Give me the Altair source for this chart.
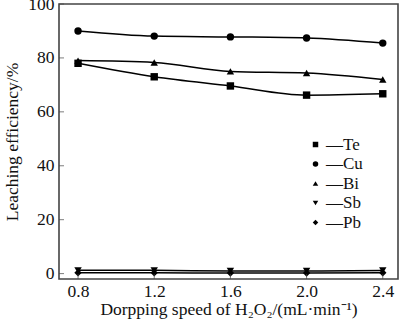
import altair as alt
import pandas as pd

speeds = [0.8, 1.2, 1.6, 2.0, 2.4]
te = [78.0, 73.0, 69.6, 66.2, 66.7]
cu = [90.0, 88.1, 87.8, 87.4, 85.5]
bi = [79.0, 78.3, 75.0, 74.4, 72.0]
sb = [1.2, 1.2, 1.0, 1.0, 1.2]
pb = [0.3, 0.3, 0.2, 0.2, 0.3]
series_names = ["Te", "Cu", "Bi", "Sb", "Pb"]
x_ticks = [0.8, 1.2, 1.6, 2.0, 2.4]
y_ticks = [0, 20, 40, 60, 80, 100]

rows = []
for name, vals in zip(series_names, [te, cu, bi, sb, pb]):
    for s, v in zip(speeds, vals):
        rows.append({"speed": s, "eff": v, "metal": name})
df = pd.DataFrame(rows)

FONT = "Liberation Serif, Times New Roman, serif"
FS = 17.5
xs = alt.Scale(domain=[0.7, 2.48], nice=False, zero=False)
ys = alt.Scale(domain=[-2, 100], nice=False, zero=False)

x_enc = alt.X("speed:Q", scale=xs,
              axis=alt.Axis(values=x_ticks, format=".1f", tickSize=0, domain=False, grid=False,
                            labelFont=FONT, labelFontSize=FS, labelColor="#111", labelPadding=3,
                            title="Dorpping speed of H₂O₂/(mL·min⁻¹)", titleFont=FONT,
                            titleFontSize=FS, titleFontWeight="normal", titleColor="#111",
                            titlePadding=1))
y_enc = alt.Y("eff:Q", scale=ys,
              axis=alt.Axis(values=y_ticks, tickSize=0, domain=False, grid=False,
                            labelFont=FONT, labelFontSize=FS, labelColor="#111", labelPadding=5,
                            title="Leaching efficiency/%", titleFont=FONT, titleFontSize=FS,
                            titleFontWeight="normal", titleColor="#111", titlePadding=6))

lines = alt.Chart(df).mark_line(interpolate="monotone", color="black", strokeWidth=1.5).encode(
    x=x_enc, y=y_enc, detail="metal:N")

points = alt.Chart(df).mark_point(filled=True, opacity=1, size=55, color="black").encode(
    x=alt.X("speed:Q", scale=xs),
    y=alt.Y("eff:Q", scale=ys),
    shape=alt.Shape("metal:N", sort=series_names,
                    scale=alt.Scale(domain=series_names,
                                    range=["square", "circle", "triangle-up", "triangle-down", "diamond"]),
                    legend=alt.Legend(title=None, orient="none", legendX=248, legendY=132,
                                      labelFont=FONT, labelFontSize=17, labelColor="#111",
                                      labelExpr="'—' + datum.label", symbolSize=30,
                                      symbolFillColor="black", symbolStrokeColor="black",
                                      rowPadding=1.5, labelOffset=2)))

ytick_df = pd.DataFrame({"v": y_ticks})
xtick_df = pd.DataFrame({"v": x_ticks})
yt = alt.Chart(ytick_df).mark_tick(orient="horizontal", color="#444", size=5, thickness=1).encode(
    y=alt.Y("v:Q", scale=ys), x=alt.value(2.5))
xt = alt.Chart(xtick_df).mark_tick(orient="vertical", color="#444", size=5, thickness=1).encode(
    x=alt.X("v:Q", scale=xs), y=alt.value(272.5))

chart = alt.layer(lines, points, yt, xt).properties(
    width=339, height=275,
    autosize=alt.AutoSizeParams(type="none"),
    padding={"left": 59, "top": 4, "right": 2, "bottom": 42},
    background="white",
).configure_view(stroke="#444", strokeWidth=1.6)

chart.save("out.html", embed_options={"renderer": "svg", "actions": False})
